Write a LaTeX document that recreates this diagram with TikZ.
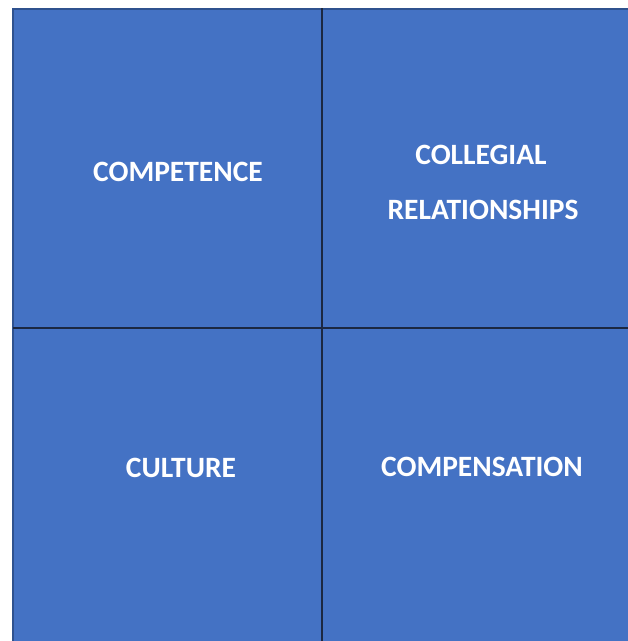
\documentclass[tikz,border=0pt]{standalone}
\usepackage{fontspec}
\setmainfont{Carlito}
\definecolor{cellblue}{HTML}{4472C4}
\definecolor{edgeblue}{HTML}{2F528F}
\definecolor{gridline}{HTML}{1C2841}
\begin{document}
\begin{tikzpicture}[x=1pt,y=-1pt,
  label/.style={inner sep=0pt, text=white, font=\bfseries\fontsize{29.5}{34}\selectfont},
  divider/.style={draw=gridline, line width=1.2pt}]
\useasboundingbox (0,0) rectangle (628,641);
% blue quadrant block, running off the right and bottom edges
\fill[cellblue] (12,8) rectangle (640,650);
\draw[edgeblue, line width=2pt] (13,660) -- (13,9) -- (640,9);
% dividers between the four cells
\coordinate (vtop) at (322,8);
\coordinate (vbot) at (322,641);
\coordinate (hleft) at (13,328);
\coordinate (hright) at (628,328);
\draw[divider] (vtop) -- (vbot);
\draw[divider] (hleft) -- (hright);
% cell labels
\node[label] (competence) at (178,172) {COMPETENCE};
\node[label] (collegial) at (481,155) {COLLEGIAL};
\node[label] (relationships) at (483,210) {RELATIONSHIPS};
\node[label] (culture) at (181,467.5) {CULTURE};
\node[label] (compensation) at (482,467) {COMPENSATION};
\end{tikzpicture}
\end{document}
